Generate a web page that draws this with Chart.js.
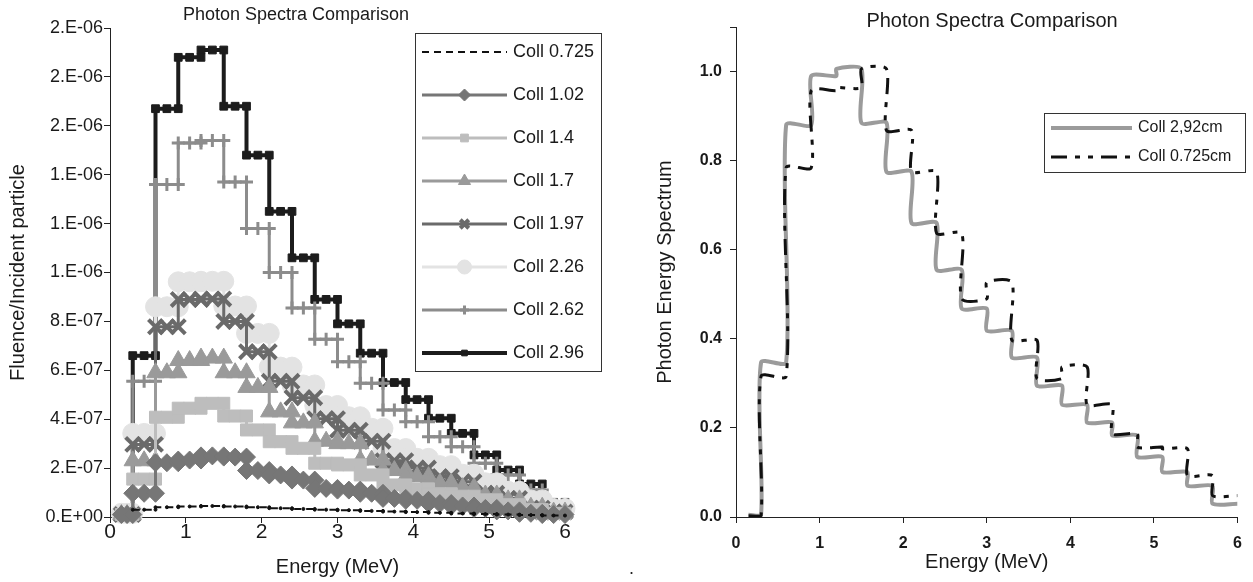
<!DOCTYPE html>
<html>
<head>
<meta charset="utf-8">
<title>Photon Spectra Comparison</title>
<script src="https://cdn.jsdelivr.net/npm/chart.js@4.4.1/dist/chart.umd.min.js"></script>
<style>
  body { margin: 0; background: #fff; }
  #wrap { position: relative; width: 1253px; height: 582px; }
  canvas { position: absolute; top: 0; }
  #dot { position: absolute; left: 629px; top: 558px; font: 18px "Liberation Sans", Arial, sans-serif; color: #222; }
</style>
</head>
<body>
<div id="wrap">
  <canvas id="left" width="627" height="582" style="left:0"></canvas>
  <canvas id="right" width="626" height="582" style="left:627px"></canvas>
  <div id="dot">.</div>
</div>
<script>
// energy bins (MeV), shared by both panels
const binEdges = [0.15, 0.3, 0.6, 0.9, 1.2, 1.5, 1.8, 2.1, 2.4, 2.7, 3.0, 3.3, 3.6, 3.9, 4.2, 4.5, 4.8, 5.1, 5.4, 5.7, 6.0];
const xTicks = [0, 1, 2, 3, 4, 5, 6];
const xTickLabels = ['0', '1', '2', '3', '4', '5', '6'];

// left panel: fluence / incident particle, units of 1e-7, one value per bin
const coll0725 = [null, 0.3, 0.4, 0.43, 0.45, 0.43, 0.4, 0.36, 0.33, 0.3, 0.28, 0.25, 0.22, 0.2, 0.17, 0.14, 0.12, 0.1, 0.08, 0.06];
const coll102 = [0.1, 0.97, 2.22, 2.33, 2.5, 2.45, 1.9, 1.72, 1.51, 1.17, 1.1, 0.97, 0.76, 0.68, 0.55, 0.45, 0.35, 0.25, 0.15, 0.1];
const coll14 = [0.1, 1.55, 4.08, 4.45, 4.65, 4.13, 3.56, 3.08, 2.81, 2.2, 2.13, 1.72, 1.31, 1.15, 0.95, 0.85, 0.7, 0.5, 0.3, 0.15];
const coll17 = [0.1, 2.3, 5.9, 6.4, 6.5, 5.9, 5.3, 4.3, 3.85, 3.1, 3.0, 2.33, 1.9, 1.65, 1.38, 1.2, 0.9, 0.7, 0.4, 0.2];
const coll197 = [0.1, 2.97, 7.78, 8.9, 8.92, 8.0, 6.76, 5.55, 4.88, 4.02, 3.55, 3.1, 2.3, 2.0, 1.65, 1.44, 0.97, 0.76, 0.36, 0.2];
const coll226 = [0.15, 3.42, 8.6, 9.62, 9.64, 8.63, 7.51, 6.13, 5.4, 4.56, 4.1, 3.63, 2.8, 2.4, 2.1, 1.75, 1.4, 1.05, 0.7, 0.35];
const coll262 = [0.2, 5.55, 13.6, 15.3, 15.4, 13.7, 11.8, 10.0, 8.55, 7.27, 6.35, 5.47, 4.38, 3.9, 3.28, 2.87, 2.2, 1.72, 1.1, 0.49];
const coll296 = [0.2, 6.6, 16.7, 18.8, 19.1, 16.8, 14.8, 12.5, 10.6, 8.9, 7.9, 6.7, 5.5, 4.8, 4.04, 3.42, 2.54, 1.92, 1.35, 0.6];
const leftNames = ['Coll 0.725', 'Coll 1.02', 'Coll 1.4', 'Coll 1.7', 'Coll 1.97', 'Coll 2.26', 'Coll 2.62', 'Coll 2.96'];
const leftYTicks = [0, 2, 4, 6, 8, 10, 12, 14, 16, 18, 20];
const leftYLabels = ['0.E+00', '2.E-07', '4.E-07', '6.E-07', '8.E-07', '1.E-06', '1.E-06', '1.E-06', '2.E-06', '2.E-06', '2.E-06'];

// right panel: normalised photon energy spectrum, one value per bin
const coll292cm = [0.005, 0.347, 0.88, 0.99, 1.006, 0.885, 0.775, 0.66, 0.555, 0.468, 0.418, 0.358, 0.295, 0.252, 0.212, 0.183, 0.135, 0.101, 0.07, 0.03];
const coll0725cm = [0.003, 0.316, 0.784, 0.957, 0.964, 1.006, 0.868, 0.775, 0.637, 0.49, 0.527, 0.397, 0.311, 0.337, 0.252, 0.187, 0.157, 0.153, 0.093, 0.048];
const rightNames = ['Coll 2,92cm', 'Coll 0.725cm'];
const rightYTicks = [0, 0.2, 0.4, 0.6, 0.8, 1.0, 1.1];
const rightYLabels = ['0.0', '0.2', '0.4', '0.6', '0.8', '1.0', ''];

const FONT = '"Liberation Sans", Arial, sans-serif';
const INK = '#1a1a1a';

// histogram bins -> step line points (start, [middle], end of each bin)
function steps(vals, withMid) {
  const pts = [];
  vals.forEach((v, i) => {
    if (v === null) return;
    const lo = binEdges[i], hi = binEdges[i + 1];
    pts.push({x: lo, y: v});
    if (withMid) pts.push({x: (lo + hi) / 2, y: v});
    pts.push({x: hi, y: v});
  });
  return pts;
}

// title + boxed legend drawn at fixed spots, like the original spreadsheet chart
const overlay = {
  id: 'overlay',
  afterDraw(chart, args, o) {
    const ctx = chart.ctx;
    ctx.save();
    ctx.fillStyle = INK;
    ctx.font = o.titleFont;
    ctx.textAlign = 'center';
    ctx.textBaseline = 'middle';
    ctx.fillText(o.title, o.titleX, o.titleY);

    const b = o.box;
    ctx.fillStyle = '#fff';
    ctx.fillRect(b.x, b.y, b.w, b.h);
    ctx.strokeStyle = '#333';
    ctx.lineWidth = 1;
    ctx.strokeRect(b.x + 0.5, b.y + 0.5, b.w, b.h);

    ctx.textAlign = 'left';
    ctx.font = o.itemFont;
    o.order.forEach((di, k) => {
      const ds = chart.data.datasets[di];
      const y = o.rowY + k * o.rowGap;
      ctx.strokeStyle = ds.borderColor;
      ctx.lineWidth = ds.borderWidth;
      ctx.setLineDash(ds.borderDash || []);
      ctx.beginPath();
      ctx.moveTo(o.lineX0, y);
      ctx.lineTo(o.lineX1, y);
      ctx.stroke();
      ctx.setLineDash([]);
      const lr = o.markers ? o.markers[k] : 0;
      if (lr > 0 && Chart.helpers && Chart.helpers.drawPoint) {
        ctx.fillStyle = ds.pointBackgroundColor;
        ctx.strokeStyle = ds.pointBorderColor;
        ctx.lineWidth = ds.pointBorderWidth;
        Chart.helpers.drawPoint(ctx, {pointStyle: ds.pointStyle, radius: lr, rotation: 0, borderWidth: ds.pointBorderWidth}, (o.lineX0 + o.lineX1) / 2, y);
      }
      ctx.fillStyle = INK;
      ctx.fillText(ds.label, o.textX, y);
    });
    ctx.restore();
  }
};

function axisBase() {
  return {
    border: {display: true, color: '#222', width: 1},
    grid: {drawOnChartArea: false, drawTicks: true, tickLength: 6, color: '#222'}
  };
}

// ---------- left panel ----------
const leftValues = [coll0725, coll102, coll14, coll17, coll197, coll226, coll262, coll296];
const leftLook = [
  {c: '#111111', w: 2, dash: [7, 5], p: 'circle', r: 1.5, bw: 1},
  {c: '#767676', w: 3, p: 'rectRot', r: 9, bw: 1},
  {c: '#bdbdbd', w: 3, p: 'rect', r: 8.5, bw: 1},
  {c: '#9a9a9a', w: 3, p: 'triangle', r: 10, bw: 1},
  {c: '#6a6a6a', w: 3, p: 'crossRot', r: 10, bw: 4},
  {c: '#e3e3e3', w: 3, p: 'circle', r: 10, bw: 1},
  {c: '#8c8c8c', w: 3, p: 'cross', r: 6.5, bw: 3},
  {c: '#1c1c1c', w: 4, p: 'rect', r: 5.5, bw: 1}
];

new Chart(document.getElementById('left'), {
  type: 'line',
  data: {
    datasets: leftValues.map((vals, i) => ({
      label: leftNames[i],
      data: steps(vals, true),
      borderColor: leftLook[i].c,
      borderWidth: leftLook[i].w,
      borderDash: leftLook[i].dash || [],
      pointStyle: leftLook[i].p,
      pointRadius: leftLook[i].r,
      pointBackgroundColor: leftLook[i].c,
      pointBorderColor: leftLook[i].c,
      pointBorderWidth: leftLook[i].bw,
      tension: 0,
      clip: false
    }))
  },
  options: {
    responsive: false,
    animation: false,
    devicePixelRatio: 1,
    events: [],
    layout: {padding: {top: 28, left: 0, right: 62, bottom: 0}},
    plugins: {
      legend: {display: false},
      tooltip: {enabled: false},
      overlay: {
        title: 'Photon Spectra Comparison', titleX: 296, titleY: 15,
        titleFont: '18px ' + FONT,
        box: {x: 415, y: 33, w: 186, h: 338},
        order: [0, 1, 2, 3, 4, 5, 6, 7],
        markers: [0, 6, 5.5, 7, 6, 7, 4.5, 4],
        rowY: 52, rowGap: 43,
        lineX0: 422, lineX1: 507, textX: 513,
        itemFont: '18px ' + FONT
      }
    },
    scales: {
      x: Object.assign(axisBase(), {
        type: 'linear', min: 0, max: 6,
        afterBuildTicks: a => { a.ticks = xTicks.map(v => ({value: v})); },
        afterFit: s => { s.height = 65; },
        ticks: {font: {family: FONT, size: 21}, color: INK, padding: -3, maxRotation: 0, autoSkip: false,
                callback: (v, i) => xTickLabels[i]},
        title: {display: true, text: 'Energy (MeV)', color: INK, font: {family: FONT, size: 20}, padding: {top: 0, bottom: 3}}
      }),
      y: Object.assign(axisBase(), {
        type: 'linear', min: 0, max: 20,
        afterBuildTicks: a => { a.ticks = leftYTicks.map(v => ({value: v})); },
        afterFit: s => { s.width = 110; },
        ticks: {font: {family: FONT, size: 18}, color: INK, padding: 1, autoSkip: false,
                callback: (v, i) => leftYLabels[i]},
        title: {display: true, text: 'Fluence/Incident particle', color: INK, font: {family: FONT, size: 20}, padding: {top: 6, bottom: 0}}
      })
    }
  },
  plugins: [overlay]
});

// ---------- right panel ----------
new Chart(document.getElementById('right'), {
  type: 'line',
  data: {
    datasets: [
      {label: rightNames[0], data: steps(coll292cm, false), borderColor: '#9b9b9b', borderWidth: 4,
       pointRadius: 0, tension: 0.25, order: 1},
      {label: rightNames[1], data: steps(coll0725cm, false), borderColor: '#111111', borderWidth: 3,
       borderDash: [16, 8, 5, 8, 5, 8], pointRadius: 0, tension: 0.25, order: 0}
    ]
  },
  options: {
    responsive: false,
    animation: false,
    devicePixelRatio: 1,
    events: [],
    layout: {padding: {top: 27, left: 0, right: 11, bottom: 0}},
    plugins: {
      legend: {display: false},
      tooltip: {enabled: false},
      overlay: {
        title: 'Photon Spectra Comparison', titleX: 365, titleY: 21,
        titleFont: '20px ' + FONT,
        box: {x: 417, y: 113, w: 201, h: 59},
        order: [0, 1],
        rowY: 128, rowGap: 29,
        lineX0: 424, lineX1: 505, textX: 511,
        itemFont: '16px ' + FONT
      }
    },
    scales: {
      x: Object.assign(axisBase(), {
        type: 'linear', min: 0, max: 6,
        afterBuildTicks: a => { a.ticks = xTicks.map(v => ({value: v})); },
        afterFit: s => { s.height = 65; },
        ticks: {font: {family: FONT, size: 16, weight: 'bold'}, color: INK, padding: 11, maxRotation: 0, autoSkip: false,
                callback: (v, i) => xTickLabels[i]},
        title: {display: true, text: 'Energy (MeV)', color: INK, font: {family: FONT, size: 20}, padding: {top: 0, bottom: 8}}
      }),
      y: Object.assign(axisBase(), {
        type: 'linear', min: 0, max: 1.1,
        afterBuildTicks: a => { a.ticks = rightYTicks.map(v => ({value: v})); },
        afterFit: s => { s.width = 109; },
        ticks: {font: {family: FONT, size: 16, weight: 'bold'}, color: INK, padding: 8, autoSkip: false,
                callback: (v, i) => rightYLabels[i]},
        title: {display: true, text: 'Photon Energy Spectrum', color: INK, font: {family: FONT, size: 20}, padding: {top: 26, bottom: 0}}
      })
    }
  },
  plugins: [overlay]
});
</script>
</body>
</html>
